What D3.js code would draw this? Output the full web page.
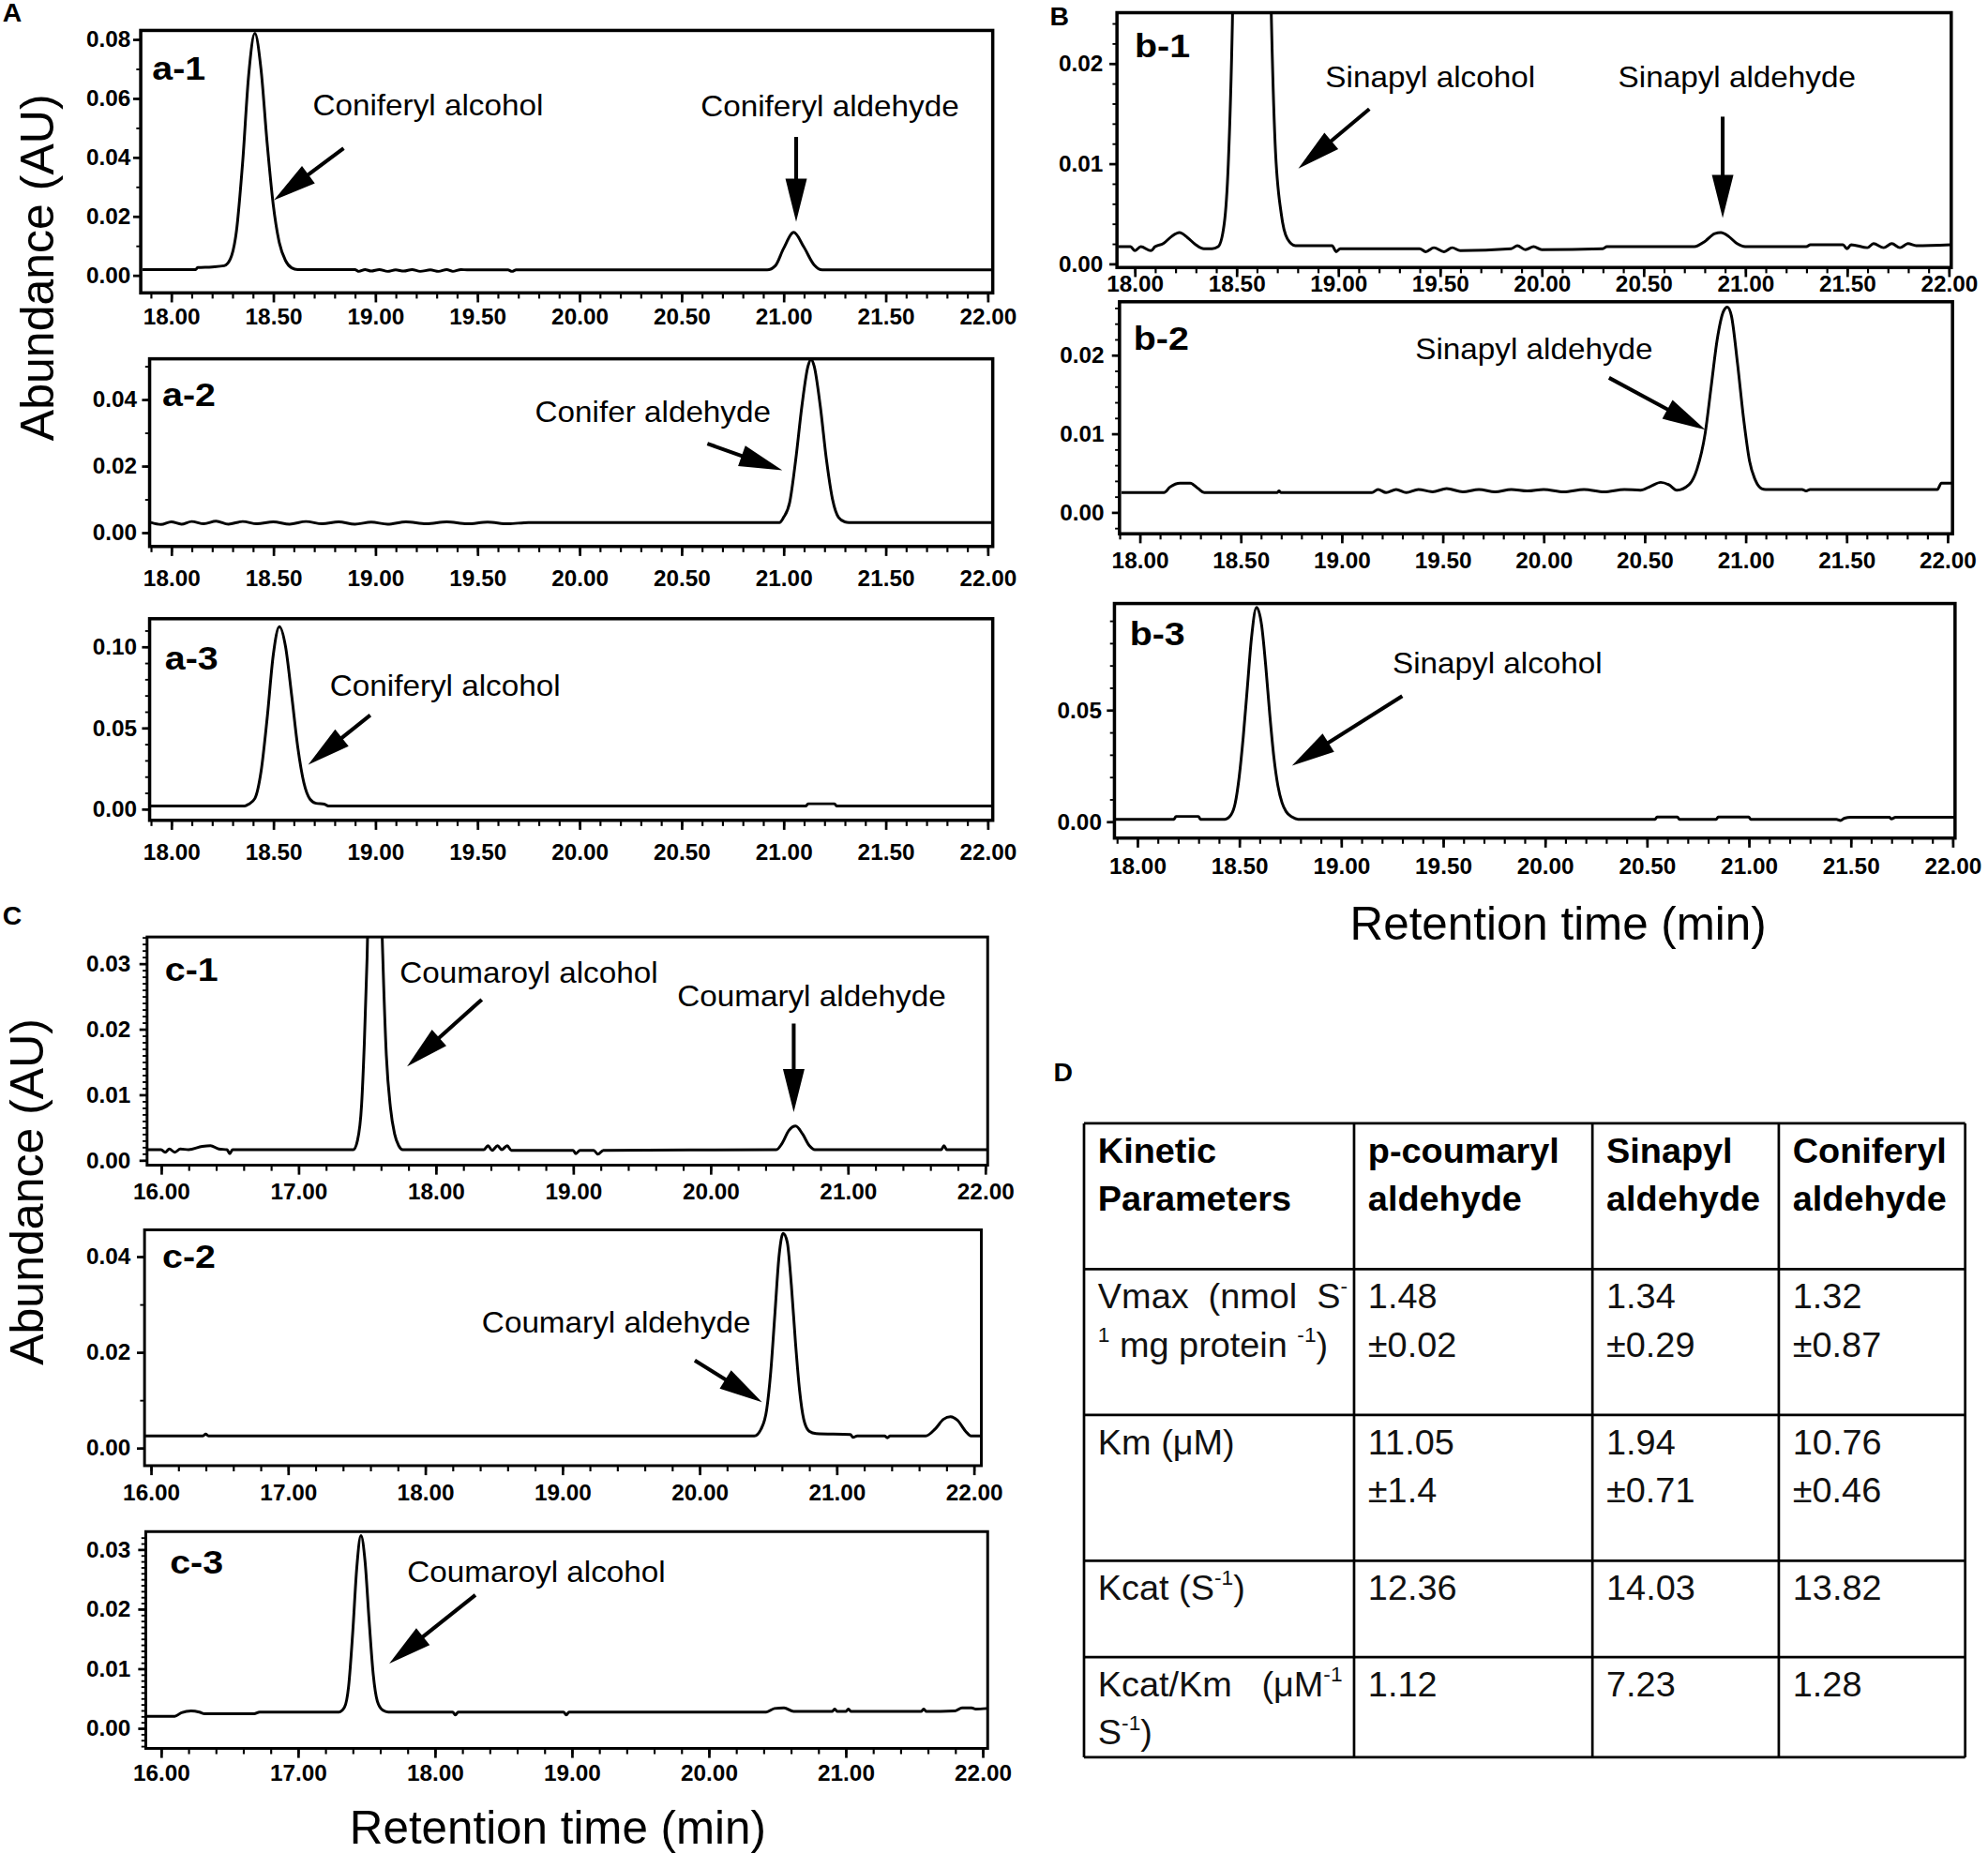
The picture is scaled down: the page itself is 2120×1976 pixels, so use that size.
<!DOCTYPE html>
<html>
<head>
<meta charset="utf-8">
<script src="https://cdn.jsdelivr.net/npm/d3@7"></script>
<style>
  body { margin: 0; background: #fff; }
  svg { display: block; font-family: 'Liberation Sans', Arial, sans-serif; }
</style>
</head>
<body>
<div id="figure"></div>
<script>
// ---- chromatogram traces: [retention time (min), abundance (AU)]
const traceA1 = [[17.86,0.0019],[18.12,0.0019],[18.13,0.0026],[18.20,0.0028],[18.26,0.0032],[18.29,0.0055],[18.32,0.0150],[18.35,0.0380],[18.38,0.0680],[18.41,0.0820],[18.44,0.0700],[18.47,0.0450],[18.50,0.0240],[18.53,0.0110],[18.56,0.0050],[18.59,0.0025],[18.62,0.0019],[18.90,0.0019],[18.92,0.0013],[18.95,0.0019],[18.98,0.0014],[19.02,0.0019],[19.06,0.0013],[19.10,0.0018],[19.14,0.0014],[19.18,0.0019],[19.22,0.0013],[19.27,0.0018],[19.31,0.0013],[19.35,0.0019],[19.38,0.0013],[19.42,0.0019],[19.45,0.0018],[19.65,0.0018],[19.67,0.0013],[19.69,0.0018],[20.92,0.0018],[20.96,0.0032],[21.00,0.0090],[21.05,0.0145],[21.10,0.0095],[21.15,0.0035],[21.19,0.0018],[22.03,0.0018]];
const traceA2 = [[17.90,0.0030],[17.95,0.0024],[18.00,0.0032],[18.05,0.0025],[18.10,0.0033],[18.16,0.0026],[18.22,0.0034],[18.28,0.0025],[18.35,0.0033],[18.42,0.0026],[18.50,0.0032],[18.58,0.0025],[18.66,0.0033],[18.74,0.0026],[18.82,0.0032],[18.90,0.0025],[18.98,0.0031],[19.06,0.0025],[19.15,0.0032],[19.25,0.0026],[19.35,0.0032],[19.45,0.0026],[19.55,0.0031],[19.65,0.0026],[19.75,0.0030],[19.85,0.0030],[20.98,0.0030],[21.00,0.0045],[21.03,0.0090],[21.06,0.0220],[21.09,0.0380],[21.12,0.0500],[21.135,0.0520],[21.15,0.0500],[21.18,0.0380],[21.21,0.0220],[21.24,0.0100],[21.27,0.0045],[21.30,0.0032],[21.32,0.0030],[22.03,0.0030]];
const traceA3 = [[17.90,0.0018],[18.36,0.0018],[18.38,0.0030],[18.41,0.0065],[18.44,0.0230],[18.47,0.0560],[18.50,0.0950],[18.53,0.1123],[18.56,0.1000],[18.59,0.0700],[18.62,0.0380],[18.65,0.0160],[18.68,0.0060],[18.71,0.0035],[18.75,0.0030],[18.77,0.0018],[21.11,0.0018],[21.12,0.0032],[21.25,0.0032],[21.26,0.0018],[22.03,0.0018]];
const traceB1 = [[17.92,0.0017],[17.98,0.0017],[18.00,0.0013],[18.03,0.0017],[18.08,0.0013],[18.10,0.0017],[18.14,0.0020],[18.18,0.0027],[18.22,0.0031],[18.26,0.0026],[18.30,0.0019],[18.34,0.0015],[18.38,0.0015],[18.41,0.0017],[18.44,0.0040],[18.46,0.0100],[18.48,0.0240],[18.50,0.0500],[18.53,0.0800],[18.575,0.0920],[18.62,0.0800],[18.65,0.0500],[18.67,0.0260],[18.69,0.0120],[18.72,0.0050],[18.75,0.0025],[18.79,0.0018],[18.97,0.0018],[18.99,0.0012],[19.01,0.0015],[19.40,0.0015],[19.43,0.0012],[19.47,0.0016],[19.52,0.0012],[19.56,0.0016],[19.60,0.0013],[19.85,0.0015],[19.88,0.0018],[19.92,0.0014],[19.96,0.0017],[20.00,0.0014],[20.30,0.0015],[20.32,0.0017],[20.75,0.0017],[20.80,0.0022],[20.85,0.0030],[20.88,0.0031],[20.92,0.0027],[20.96,0.0020],[21.00,0.0017],[21.30,0.0017],[21.32,0.0019],[21.48,0.0019],[21.50,0.0015],[21.52,0.0019],[21.60,0.0016],[21.63,0.0020],[21.68,0.0016],[21.72,0.0020],[21.76,0.0016],[21.80,0.0020],[21.84,0.0018],[22.01,0.0019]];
const traceB2 = [[17.91,0.0025],[18.12,0.0025],[18.15,0.0032],[18.20,0.0037],[18.25,0.0037],[18.29,0.0030],[18.32,0.0025],[18.68,0.0025],[18.69,0.0027],[18.70,0.0025],[19.15,0.0025],[19.18,0.0029],[19.22,0.0025],[19.27,0.0029],[19.32,0.0025],[19.38,0.0029],[19.45,0.0026],[19.52,0.0030],[19.60,0.0026],[19.68,0.0029],[19.76,0.0026],[19.84,0.0029],[19.92,0.0027],[20.00,0.0029],[20.10,0.0026],[20.20,0.0029],[20.30,0.0026],[20.40,0.0029],[20.48,0.0028],[20.53,0.0033],[20.58,0.0038],[20.62,0.0035],[20.66,0.0028],[20.72,0.0035],[20.76,0.0055],[20.80,0.0100],[20.83,0.0160],[20.86,0.0220],[20.89,0.0255],[20.91,0.0261],[20.93,0.0250],[20.96,0.0190],[20.99,0.0120],[21.02,0.0065],[21.05,0.0040],[21.08,0.0030],[21.10,0.0029],[21.28,0.0029],[21.30,0.0027],[21.32,0.0029],[21.95,0.0029],[21.97,0.0037],[22.02,0.0037]];
const traceB3 = [[17.89,0.0010],[18.18,0.0010],[18.19,0.0023],[18.30,0.0023],[18.31,0.0010],[18.43,0.0010],[18.46,0.0030],[18.48,0.0080],[18.50,0.0200],[18.52,0.0380],[18.54,0.0600],[18.56,0.0820],[18.585,0.0960],[18.61,0.0880],[18.63,0.0700],[18.65,0.0480],[18.67,0.0290],[18.69,0.0160],[18.71,0.0085],[18.73,0.0045],[18.76,0.0020],[18.79,0.0010],[20.54,0.0010],[20.55,0.0020],[20.65,0.0020],[20.66,0.0010],[20.84,0.0010],[20.85,0.0020],[21.00,0.0020],[21.01,0.0010],[21.43,0.0010],[21.45,0.0005],[21.47,0.0015],[21.50,0.0019],[21.69,0.0019],[21.70,0.0012],[21.72,0.0019],[22.01,0.0019]];
const traceC1 = [[15.90,0.0016],[16.00,0.0016],[16.03,0.0012],[16.06,0.0017],[16.10,0.0012],[16.14,0.0017],[16.20,0.0016],[16.30,0.0021],[16.36,0.0022],[16.42,0.0017],[16.48,0.0016],[16.50,0.0010],[16.52,0.0016],[17.40,0.0016],[17.43,0.0030],[17.46,0.0085],[17.48,0.0180],[17.50,0.0310],[17.52,0.0500],[17.555,0.0700],[17.59,0.0500],[17.61,0.0340],[17.64,0.0160],[17.67,0.0080],[17.70,0.0040],[17.73,0.0022],[17.76,0.0016],[18.35,0.0016],[18.38,0.0022],[18.41,0.0015],[18.45,0.0022],[18.48,0.0016],[18.52,0.0022],[18.55,0.0015],[19.00,0.0015],[19.02,0.0010],[19.05,0.0015],[19.15,0.0015],[19.18,0.0009],[19.22,0.0015],[20.48,0.0016],[20.52,0.0025],[20.57,0.0045],[20.62,0.0052],[20.67,0.0040],[20.72,0.0022],[20.76,0.0016],[21.68,0.0016],[21.70,0.0022],[21.72,0.0016],[22.01,0.0016]];
const traceC2 = [[15.96,0.0025],[16.38,0.0025],[16.40,0.0029],[16.42,0.0025],[20.40,0.0025],[20.45,0.0040],[20.49,0.0080],[20.52,0.0160],[20.55,0.0280],[20.58,0.0400],[20.61,0.0448],[20.64,0.0430],[20.67,0.0340],[20.70,0.0220],[20.73,0.0120],[20.76,0.0060],[20.80,0.0035],[20.85,0.0030],[21.10,0.0028],[21.12,0.0022],[21.15,0.0025],[21.35,0.0025],[21.37,0.0021],[21.39,0.0025],[21.65,0.0025],[21.72,0.0040],[21.78,0.0060],[21.83,0.0065],[21.88,0.0058],[21.94,0.0035],[21.98,0.0025],[22.05,0.0025]];
const traceC3 = [[15.89,0.0020],[16.10,0.0020],[16.15,0.0026],[16.22,0.0029],[16.28,0.0027],[16.32,0.0024],[16.68,0.0024],[16.72,0.0027],[17.30,0.0027],[17.34,0.0035],[17.37,0.0070],[17.40,0.0160],[17.43,0.0270],[17.46,0.0323],[17.49,0.0280],[17.52,0.0180],[17.55,0.0090],[17.58,0.0045],[17.62,0.0030],[17.66,0.0027],[18.13,0.0027],[18.15,0.0022],[18.17,0.0027],[18.94,0.0027],[18.96,0.0022],[18.98,0.0027],[20.42,0.0027],[20.48,0.0033],[20.55,0.0034],[20.62,0.0028],[20.90,0.0028],[20.92,0.0032],[20.94,0.0028],[21.00,0.0028],[21.02,0.0032],[21.04,0.0028],[21.55,0.0028],[21.57,0.0032],[21.59,0.0028],[21.80,0.0029],[21.85,0.0034],[21.92,0.0034],[21.95,0.0032],[22.03,0.0033]];

// ---- tick values
const xTicksAB = [18, 18.5, 19, 19.5, 20, 20.5, 21, 21.5, 22];
const xTicksC = [16, 17, 18, 19, 20, 21, 22];
const yTicksA1 = [0, 0.02, 0.04, 0.06, 0.08];
const yTicksA2 = [0, 0.02, 0.04];
const yTicksA3 = [0, 0.05, 0.10];
const yTicksB12 = [0, 0.01, 0.02];
const yTicksB3 = [0, 0.05];
const yTicksC13 = [0, 0.01, 0.02, 0.03];
const yTicksC2 = [0, 0.02, 0.04];

// ---- peak annotations (text centre and arrow tail -> tip, in time / abundance)
const notesA1 = [
  { text: 'Coniferyl alcohol', at: [19.258, 0.0576], from: [18.845, 0.0430], to: [18.503, 0.0254] },
  { text: 'Coniferyl aldehyde', at: [21.227, 0.0572], from: [21.062, 0.0469], to: [21.062, 0.0181] }
];
const notesA2 = [{ text: 'Conifer aldehyde', at: [20.360, 0.0362], from: [20.627, 0.0267], to: [20.994, 0.0187] }];
const notesA3 = [{ text: 'Coniferyl alcohol', at: [19.342, 0.0758], from: [18.975, 0.0578], to: [18.671, 0.0273] }];
const notesB1 = [
  { text: 'Sinapyl alcohol', at: [19.452, 0.0186], from: [19.153, 0.01544], to: [18.804, 0.00949] },
  { text: 'Sinapyl aldehyde', at: [20.959, 0.0186], from: [20.889, 0.01468], to: [20.889, 0.00456] }
];
const notesB2 = [{ text: 'Sinapyl aldehyde', at: [19.953, 0.0208], from: [20.324, 0.0171], to: [20.801, 0.01048] }];
const notesB3 = [{ text: 'Sinapyl alcohol', at: [19.767, 0.0710], from: [19.300, 0.05625], to: [18.759, 0.0250] }];
const notesC1 = [
  { text: 'Coumaroyl alcohol', at: [18.677, 0.02856], from: [18.335, 0.0245], to: [17.791, 0.01428] },
  { text: 'Coumaryl aldehyde', at: [20.736, 0.02508], from: [20.606, 0.02084], to: [20.606, 0.00733] }
];
const notesC2 = [{ text: 'Coumaryl aldehyde', at: [19.393, 0.02623], from: [19.966, 0.01828], to: [20.456, 0.00954] }];
const notesC3 = [{ text: 'Coumaroyl alcohol', at: [18.741, 0.02617], from: [18.296, 0.02234], to: [17.667, 0.01085] }];

// ---- table D
const tableHeader = [['Kinetic', 'Parameters'], ['p-coumaryl', 'aldehyde'], ['Sinapyl', 'aldehyde'], ['Coniferyl', 'aldehyde']];
// parameter names: lines of [text, isSuperscript] pieces
const paramNames = [
  [[['Vmax  (nmol  S', false], ['-', true]], [['1', true], [' mg protein ', false], ['-1', true], [')', false]]],
  [[['Km (\u03bcM)', false]]],
  [[['Kcat (S', false], ['-1', true], [')', false]]],
  [[['Kcat/Km   (\u03bcM', false], ['-1', true]], [['S', false], ['-1', true], [')', false]]]
];
const vmaxValues = [['1.48', '\u00b10.02'], ['1.34', '\u00b10.29'], ['1.32', '\u00b10.87']];
const kmValues = [['11.05', '\u00b11.4'], ['1.94', '\u00b10.71'], ['10.76', '\u00b10.46']];
const kcatValues = [['12.36'], ['14.03'], ['13.82']];
const kcatKmValues = [['1.12'], ['7.23'], ['1.28']];

// ---- layout (drawing units; the svg is scaled up to 2120 x 1976)
const S = 2120 / 1568;
const W = 1568, H = 1976 / S;

const panels = [
  { name: 'a-1', trace: traceA1, notes: notesA1, box: [111, 24, 672, 207], xDomain: [17.851, 22.025], yDomain: [-0.006, 0.083], xTicks: xTicksAB, xMinor: 0.1, yTicks: yTicksA1, yMinor: 0.01, xGap: 19, yGap: 8, label: [9, 39], frame: 2.6 },
  { name: 'a-2', trace: traceA2, notes: notesA2, box: [118, 283, 665, 148], xDomain: [17.894, 22.025], yDomain: [-0.0042, 0.0522], xTicks: xTicksAB, xMinor: 0.1, yTicks: yTicksA2, yMinor: 0.01, xGap: 25, yGap: 10, label: [10, 37], frame: 2.6 },
  { name: 'a-3', trace: traceA3, notes: notesA3, box: [118, 488, 665, 159], xDomain: [17.894, 22.025], yDomain: [-0.007, 0.1172], xTicks: xTicksAB, xMinor: 0.1, yTicks: yTicksA3, yMinor: 0.01, xGap: 25, yGap: 10, label: [12, 40], frame: 2.6 },
  { name: 'b-1', trace: traceB1, notes: notesB1, box: [881, 10, 658, 201], xDomain: [17.913, 22.012], yDomain: [-0.00038, 0.02506], xTicks: xTicksAB, xMinor: 0.1, yTicks: yTicksB12, yMinor: 0.002, xGap: 13, yGap: 11, label: [14, 35], frame: 2.6 },
  { name: 'b-2', trace: traceB2, notes: notesB2, box: [883, 238, 657, 183], xDomain: [17.900, 22.025], yDomain: [-0.00274, 0.02677], xTicks: xTicksAB, xMinor: 0.1, yTicks: yTicksB12, yMinor: 0.002, xGap: 21, yGap: 12, label: [11, 38], frame: 2.6 },
  { name: 'b-3', trace: traceB3, notes: notesB3, box: [879, 476, 663, 185], xDomain: [17.888, 22.012], yDomain: [-0.0074, 0.0977], xTicks: xTicksAB, xMinor: 0.1, yTicks: yTicksB3, yMinor: 0.01, xGap: 22, yGap: 10, label: [12, 33], frame: 2.6 },
  { name: 'c-1', trace: traceC1, notes: notesC1, box: [116, 739, 663, 180], xDomain: [15.898, 22.018], yDomain: [-0.00077, 0.03405], xTicks: xTicksC, xMinor: 0.2, yTicks: yTicksC13, yMinor: 0.001, xGap: 21, yGap: 13, label: [14, 35], frame: 2.2 },
  { name: 'c-2', trace: traceC2, notes: notesC2, box: [114, 970, 660, 186], xDomain: [15.954, 22.055], yDomain: [-0.00371, 0.04556], xTicks: xTicksC, xMinor: 0.2, yTicks: yTicksC2, yMinor: 0.01, xGap: 21, yGap: 11, label: [14, 30], frame: 2.2 },
  { name: 'c-3', trace: traceC3, notes: notesC3, box: [115, 1208, 664, 171], xDomain: [15.889, 22.037], yDomain: [-0.0034, 0.03298], xTicks: xTicksC, xMinor: 0.2, yTicks: yTicksC13, yMinor: 0.001, xGap: 19, yGap: 12, label: [19, 33], frame: 2.2 }
];

const noteFont = 23, noteStretch = 1.07, tickFont = 18;

const svg = d3.select('#figure').append('svg')
  .attr('width', 2120)
  .attr('height', 1976)
  .attr('viewBox', `0 0 ${W} ${H}`);

svg.append('rect').attr('width', W).attr('height', H).attr('fill', '#fff');
const defs = svg.append('defs');

// Text that is stretched sideways like the pasted figure
function stretchText(g, str, x, y, size, sx, opts = {}) {
  return g.append('text')
    .attr('transform', `translate(${x},${y}) scale(${sx},1)`)
    .attr('font-size', size)
    .attr('font-weight', opts.bold ? 'bold' : null)
    .attr('text-anchor', opts.anchor || 'start')
    .attr('dy', opts.dy || null)
    .attr('fill', '#000')
    .text(str);
}

// Arrow with a long filled head, tip at (x2, y2)
function arrow(g, x1, y1, x2, y2) {
  const len = Math.hypot(x2 - x1, y2 - y1);
  const ux = (x2 - x1) / len, uy = (y2 - y1) / len;
  const headLen = 34, headW = 17;
  const bx = x2 - ux * headLen, by = y2 - uy * headLen;
  g.append('line')
    .attr('x1', x1).attr('y1', y1)
    .attr('x2', x2 - ux * headLen * 0.5).attr('y2', y2 - uy * headLen * 0.5)
    .attr('stroke', '#000').attr('stroke-width', 3);
  g.append('path')
    .attr('d', `M${x2},${y2}L${bx - uy * headW / 2},${by + ux * headW / 2}L${bx + uy * headW / 2},${by - ux * headW / 2}Z`)
    .attr('fill', '#000');
}

function minorValues(domain, step) {
  const lo = Math.ceil(domain[0] / step - 1e-6), hi = Math.floor(domain[1] / step + 1e-6);
  return d3.range(lo, hi + 1).map(k => +(k * step).toFixed(4));
}

function styleAxis(a, width) {
  a.select('.domain').remove();
  a.attr('font-family', null).attr('font-size', tickFont).attr('font-weight', 'bold');
  a.selectAll('line').attr('stroke', '#000').attr('stroke-width', width);
  a.selectAll('text').attr('fill', '#000');
}

function drawPanel(p, i) {
  const [bx, by, bw, bh] = p.box;
  const x = d3.scaleLinear().domain(p.xDomain).range([bx, bx + bw]);
  const y = d3.scaleLinear().domain(p.yDomain).range([by + bh, by]);
  const g = svg.append('g').attr('class', 'panel');

  defs.append('clipPath').attr('id', 'clip' + i)
    .append('rect').attr('x', bx).attr('y', by).attr('width', bw).attr('height', bh);

  // x axis: minor then labelled major ticks, hanging under the frame
  g.append('g').attr('transform', `translate(0,${by + bh})`)
    .call(d3.axisBottom(x).tickValues(minorValues(p.xDomain, p.xMinor)).tickFormat('').tickSize(4.5))
    .call(a => styleAxis(a, 1.6));
  g.append('g').attr('transform', `translate(0,${by + bh})`)
    .call(d3.axisBottom(x).tickValues(p.xTicks).tickFormat(d3.format('.2f')).tickSize(7.5).tickPadding(p.xGap - 14))
    .call(a => styleAxis(a, 2));

  // y axis
  g.append('g').attr('transform', `translate(${bx},0)`)
    .call(d3.axisLeft(y).tickValues(minorValues(p.yDomain, p.yMinor)).tickFormat('').tickSize(3.5))
    .call(a => styleAxis(a, 1.4));
  g.append('g').attr('transform', `translate(${bx},0)`)
    .call(d3.axisLeft(y).tickValues(p.yTicks).tickFormat(d3.format('.2f')).tickSize(6).tickPadding(p.yGap - 6))
    .call(a => styleAxis(a, 2));

  // trace
  const line = d3.line()
    .x(d => x(d[0]))
    .y(d => y(d[1]))
    .curve(d3.curveMonotoneX);
  g.append('path')
    .datum(p.trace)
    .attr('clip-path', `url(#clip${i})`)
    .attr('fill', 'none')
    .attr('stroke', '#000')
    .attr('stroke-width', 2.2)
    .attr('stroke-linejoin', 'round')
    .attr('d', line);

  // frame
  g.append('rect')
    .attr('x', bx).attr('y', by).attr('width', bw).attr('height', bh)
    .attr('fill', 'none').attr('stroke', '#000').attr('stroke-width', p.frame);

  // panel tag and peak notes
  stretchText(g, p.name, bx + p.label[0], by + p.label[1], 26, 1.12, { bold: true });
  p.notes.forEach(n => {
    stretchText(g, n.text, x(n.at[0]), y(n.at[1]), noteFont, noteStretch, { anchor: 'middle', dy: '0.35em' });
    arrow(g, x(n.from[0]), y(n.from[1]), x(n.to[0]), y(n.to[1]));
  });
}

panels.forEach(drawPanel);

// ---- figure letters and axis titles
const titles = svg.append('g');
[['A', 2, 17], ['B', 828, 20], ['C', 2, 729], ['D', 831, 853]].forEach(([s, lx, ly]) => {
  stretchText(titles, s, lx, ly, 20, 1.05, { bold: true });
});
[[42, 211], [34, 940]].forEach(([bx, cy]) => {
  titles.append('text')
    .attr('transform', `translate(${bx},${cy}) rotate(-90)`)
    .attr('text-anchor', 'middle')
    .attr('font-size', 37)
    .text('Abundance (AU)');
});
[[1229, 741], [440, 1454]].forEach(([cx, cy]) => {
  titles.append('text')
    .attr('x', cx).attr('y', cy)
    .attr('text-anchor', 'middle')
    .attr('font-size', 36.5)
    .text('Retention time (min)');
});

// ---- table D
const colX = [855, 1068, 1256, 1403, 1550];
const rowY = [886, 1001, 1116, 1231, 1307, 1386];
const table = svg.append('g').attr('fill', '#111');

table.selectAll('line.h')
  .data(rowY)
  .join('line')
  .attr('class', 'h')
  .attr('x1', colX[0]).attr('x2', colX[colX.length - 1])
  .attr('y1', d => d).attr('y2', d => d)
  .attr('stroke', '#000').attr('stroke-width', 2);
table.selectAll('line.v')
  .data(colX)
  .join('line')
  .attr('class', 'v')
  .attr('y1', rowY[0]).attr('y2', rowY[rowY.length - 1])
  .attr('x1', d => d).attr('x2', d => d)
  .attr('stroke', '#000').attr('stroke-width', 2);

const cellPad = 11, firstBase = 31, lineStep = 38, fontT = 28;

tableHeader.forEach((lines, c) => {
  lines.forEach((s, k) => {
    table.append('text')
      .attr('x', colX[c] + cellPad)
      .attr('y', rowY[0] + firstBase + k * lineStep)
      .attr('font-size', fontT)
      .attr('font-weight', 'bold')
      .attr('fill', '#000')
      .text(s);
  });
});

function richLine(g, pieces, x, y) {
  const t = g.append('text').attr('x', x).attr('y', y).attr('font-size', fontT);
  let shift = 0;
  pieces.forEach(([s, sup]) => {
    const want = sup ? -0.42 * fontT : 0;
    t.append('tspan')
      .attr('dy', want - shift)
      .attr('font-size', sup ? fontT * 0.6 : fontT)
      .style('white-space', 'pre')
      .text(s);
    shift = want;
  });
  return t;
}

const valueRows = [vmaxValues, kmValues, kcatValues, kcatKmValues];
paramNames.forEach((lines, r) => {
  const top = rowY[r + 1];
  lines.forEach((pieces, k) => {
    richLine(table, pieces, colX[0] + cellPad, top + firstBase + k * lineStep)
      .attr('xml:space', 'preserve');
  });
  valueRows[r].forEach((vals, c) => {
    vals.forEach((s, k) => {
      table.append('text')
        .attr('x', colX[c + 1] + cellPad)
        .attr('y', top + firstBase + k * lineStep)
        .attr('font-size', fontT)
        .text(s);
    });
  });
});
</script>
</body>
</html>
